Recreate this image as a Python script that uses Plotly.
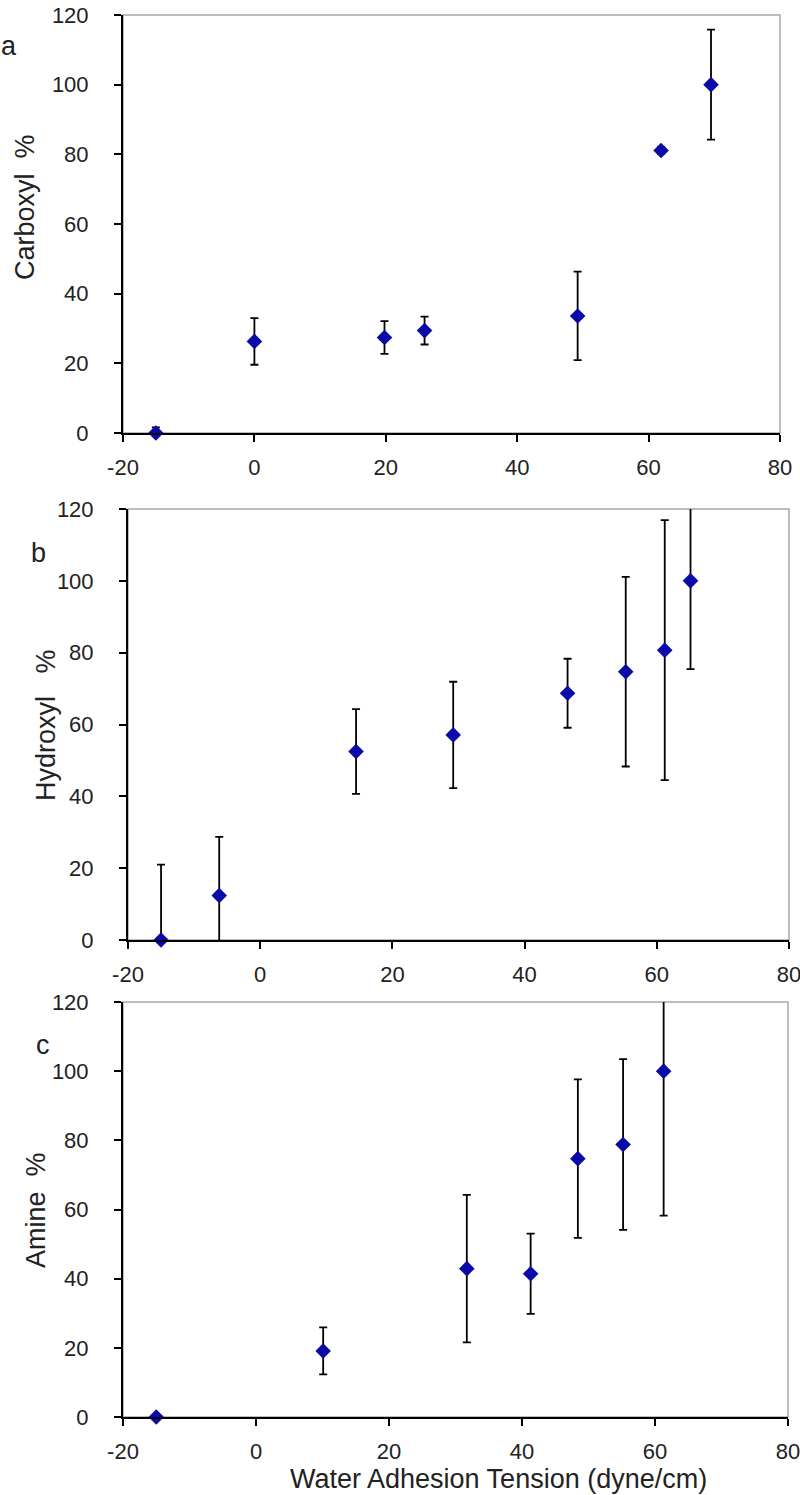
import plotly.graph_objects as go

# Panel a - carboxyl
carboxyl_x = [-15, 0, 19.8, 25.9, 49.2, 61.9, 69.5]
carboxyl_y = [0, 26.3, 27.4, 29.4, 33.6, 81.1, 100]
carboxyl_err = [1.6, 6.7, 4.7, 4.0, 12.7, 1.0, 15.8]

# Panel b - hydroxyl
hydroxyl_x = [-15, -6.2, 14.5, 29.2, 46.5, 55.3, 61.2, 65.1]
hydroxyl_y = [0, 12.4, 52.5, 57.1, 68.7, 74.7, 80.7, 100]
hydroxyl_err = [21, 16.3, 11.8, 14.8, 9.6, 26.4, 36.2, 24.6]

# Panel c - amine
amine_x = [-15, 10.1, 31.7, 41.3, 48.4, 55.2, 61.3]
amine_y = [0, 19.1, 42.9, 41.4, 74.7, 78.8, 100]
amine_err = [0, 6.8, 21.3, 11.6, 22.9, 24.7, 41.8]

panel_letters = ["a", "b", "c"]
y_titles = ["Carboxyl\u00a0\u00a0%", "Hydroxyl\u00a0\u00a0\u00a0%", "Amine\u00a0\u00a0%"]
x_title = "Water Adhesion Tension (dyne/cm)"
x_ticks = [-20, 0, 20, 40, 60, 80]
x_ticktext = ["-20", "0", "20", "40", "60", "80"]
y_ticks = [0, 20, 40, 60, 80, 100, 120]

W, H = 800, 1495
FONT = "Liberation Sans, Arial, sans-serif"
BLUE = "#0a0aa8"


def px(xp):
    return xp / W


def py(yp):
    return 1 - yp / H


# plot-area boxes in pixels: (left, right, top, bottom)
boxes = [(123, 780, 15, 433), (128, 789, 509, 940), (123, 788, 1002, 1417)]
ytitle_pos = [(25, 207), (46, 725), (36, 1210)]
letter_pos = [(9, 46), (38, 553), (43, 1045)]

data = [(carboxyl_x, carboxyl_y, carboxyl_err),
        (hydroxyl_x, hydroxyl_y, hydroxyl_err),
        (amine_x, amine_y, amine_err)]

fig = go.Figure()
layout = {}
annotations = []
shapes = []

for i, ((xs, ys, es), (l, r, t, b)) in enumerate(zip(data, boxes)):
    n = "" if i == 0 else str(i + 1)
    xa, ya = "x" + n, "y" + n

    # error bars, clipped to the plot area
    fig.add_trace(go.Scatter(
        x=xs, y=ys, mode="markers", xaxis=xa, yaxis=ya,
        marker=dict(size=1, opacity=0),
        error_y=dict(type="data", array=es, visible=True,
                     color="black", thickness=1.8, width=4),
        cliponaxis=True, showlegend=False, hoverinfo="skip",
    ))
    # markers drawn on top, not clipped
    fig.add_trace(go.Scatter(
        x=xs, y=ys, mode="markers", xaxis=xa, yaxis=ya,
        marker=dict(symbol="diamond", size=12, color=BLUE),
        cliponaxis=False, showlegend=False,
    ))

    axis_common = dict(showgrid=False, zeroline=False, showline=True,
                       automargin=False, ticklabeloverflow="allow",
                       linecolor="black", linewidth=2, ticks="outside",
                       ticklen=7, tickwidth=2, tickcolor="black",
                       tickfont=dict(family=FONT, size=22, color="#222"))
    layout["xaxis" + n] = dict(axis_common, domain=[px(l), px(r)], anchor=ya,
                               range=[-20, 80], tickvals=x_ticks,
                               ticktext=x_ticktext, ticklabelstandoff=7)
    layout["yaxis" + n] = dict(axis_common, domain=[py(b), py(t)],
                               anchor=xa, range=[0, 120], tickvals=y_ticks,
                               ticklabelstandoff=21)

    shapes.append(dict(type="rect", xref=xa + " domain", yref=ya + " domain",
                       x0=0, x1=1, y0=0, y1=1, layer="below",
                       line=dict(color="#a3abab", width=1.5)))

    tx, ty = ytitle_pos[i]
    annotations.append(dict(text=y_titles[i], x=px(tx), y=py(ty),
                            xref="paper", yref="paper", textangle=-90,
                            showarrow=False, xanchor="center", yanchor="middle",
                            font=dict(family=FONT, size=27, color="#222")))
    lx, ly = letter_pos[i]
    annotations.append(dict(text=panel_letters[i], x=px(lx), y=py(ly),
                            xref="paper", yref="paper", showarrow=False,
                            xanchor="center", yanchor="middle",
                            font=dict(family=FONT, size=27, color="#222")))

annotations.append(dict(text=x_title, x=px(498), y=py(1479),
                        xref="paper", yref="paper", showarrow=False,
                        xanchor="center", yanchor="middle",
                        font=dict(family=FONT, size=27, color="#222")))

fig.update_layout(
    width=W, height=H,
    margin=dict(l=0, r=0, t=0, b=0),
    paper_bgcolor="white", plot_bgcolor="white",
    annotations=annotations, shapes=shapes,
    showlegend=False,
    **layout,
)

# drop the browser's default body margin so the figure fills the window
fig.write_html("out.html", config={"displayModeBar": False},
               post_script="document.body.style.margin = '0';")
